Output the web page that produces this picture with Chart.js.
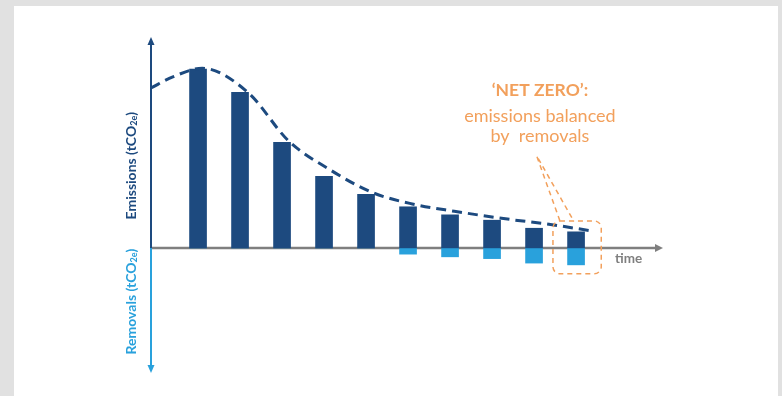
<!DOCTYPE html>
<html lang="en">
<head>
    <meta charset="UTF-8">
    <title>Net zero</title>
    <script src="https://cdn.jsdelivr.net/npm/chart.js"></script>
    <style>
        body { margin: 0; background: #e1e1e1; }
        canvas { display: block; }
    </style>
</head>
<body>
    <canvas id="netZero" width="782" height="396"></canvas>

    <script>
        // Periods (bar positions on the time axis)
        const periods = [1, 2, 3, 4, 5, 6, 7, 8, 9, 10];
        // Emissions above the axis, removals below (tCO2e, arbitrary units)
        const emissions = [100, 87, 59, 40, 30, 23, 18.5, 15.5, 11, 9];
        const removals = [0, 0, 0, 0, 0, -3.5, -5, -6, -8.5, -9.5];
        // Dashed trend curve
        const curveX = [-0.12, 0.4, 1.1, 2.2, 3.15, 4.15, 5.15, 6.1, 7.1, 8.5, 9.3, 10.38];
        const curveY = [89.5, 95.7, 100.5, 86.7, 60, 43.6, 31, 24.6, 20.5, 15.7, 13.4, 9.5];
        // Text
        const yLabelUp = ['Emissions (tCO', '2e', ')'];
        const yLabelDown = ['Removals (tCO', '2e', ')'];
        const xLabel = 'time';
        const noteLines = ['\u2018NET ZERO\u2019:', 'emissions balanced', 'by  removals'];

        const DARK = '#1d4a7f';
        const LIGHT = '#29a1dc';
        const ORANGE = '#f2a05c';
        const GREY = '#7f7f7f';

        function arrowHead(ctx, x, y, dir, len, half) {
            // dir: 'up', 'down', 'right'
            ctx.beginPath();
            if (dir === 'up') {
                ctx.moveTo(x, y); ctx.lineTo(x - half, y + len); ctx.lineTo(x + half, y + len);
            } else if (dir === 'down') {
                ctx.moveTo(x, y); ctx.lineTo(x - half, y - len); ctx.lineTo(x + half, y - len);
            } else {
                ctx.moveTo(x, y); ctx.lineTo(x - len, y - half); ctx.lineTo(x - len, y + half);
            }
            ctx.closePath();
            ctx.fill();
        }

        function rotatedLabel(ctx, x, yc, parts, color) {
            const big = 'bold 14px Lato';
            const small = 'bold 9px Lato';
            ctx.save();
            ctx.font = big;
            const w0 = ctx.measureText(parts[0]).width;
            const w2 = ctx.measureText(parts[2]).width;
            ctx.font = small;
            const w1 = ctx.measureText(parts[1]).width;
            const total = w0 + w1 + w2;
            ctx.translate(x, yc);
            ctx.rotate(-Math.PI / 2);
            ctx.fillStyle = color;
            ctx.textAlign = 'left';
            ctx.textBaseline = 'middle';
            let p = -total / 2;
            ctx.font = big;
            ctx.fillText(parts[0], p, 0);
            p += w0;
            ctx.font = small;
            ctx.fillText(parts[1], p, 3.5);
            p += w1;
            ctx.font = big;
            ctx.fillText(parts[2], p, 0);
            ctx.restore();
        }

        const decor = {
            id: 'decor',
            beforeDraw(chart) {
                const ctx = chart.ctx;
                ctx.save();
                ctx.fillStyle = '#e1e1e1';
                ctx.fillRect(0, 0, chart.width, chart.height);
                ctx.fillStyle = '#ffffff';
                ctx.fillRect(14, 6, 764, chart.height - 6);
                ctx.restore();
            },
            beforeDatasetsDraw(chart) {
                const ctx = chart.ctx;
                const a = chart.chartArea;
                const y0 = chart.scales.y.getPixelForValue(0);
                const x0 = a.left;
                ctx.save();
                // time axis
                ctx.strokeStyle = GREY;
                ctx.fillStyle = GREY;
                ctx.lineWidth = 2.5;
                ctx.beginPath();
                ctx.moveTo(x0, y0);
                ctx.lineTo(a.right - 6, y0);
                ctx.stroke();
                arrowHead(ctx, a.right, y0, 'right', 8, 4);
                // emissions axis
                ctx.strokeStyle = DARK;
                ctx.fillStyle = DARK;
                ctx.lineWidth = 2;
                ctx.beginPath();
                ctx.moveTo(x0, y0);
                ctx.lineTo(x0, a.top + 6);
                ctx.stroke();
                arrowHead(ctx, x0, a.top, 'up', 8, 3.5);
                // removals axis
                ctx.strokeStyle = LIGHT;
                ctx.fillStyle = LIGHT;
                ctx.beginPath();
                ctx.moveTo(x0, y0);
                ctx.lineTo(x0, a.bottom - 6);
                ctx.stroke();
                arrowHead(ctx, x0, a.bottom, 'down', 8, 3.5);
                ctx.restore();
            },
            afterDatasetsDraw(chart) {
                const ctx = chart.ctx;
                const xs = chart.scales.x, ys = chart.scales.y;
                const X = v => xs.getPixelForValue(v);
                const Y = v => ys.getPixelForValue(v);
                ctx.save();

                // axis titles
                rotatedLabel(ctx, X(-0.12) - 20, Y(46), yLabelUp, DARK);
                rotatedLabel(ctx, X(-0.12) - 20, Y(-30), yLabelDown, LIGHT);
                ctx.fillStyle = GREY;
                ctx.font = 'bold 13.5px Lato';
                ctx.textAlign = 'center';
                ctx.textBaseline = 'alphabetic';
                ctx.fillText(xLabel, X(11.25), Y(-8.6));

                // net zero note
                ctx.fillStyle = ORANGE;
                ctx.textAlign = 'center';
                ctx.font = 'bold 17.5px Lato';
                ctx.fillText(noteLines[0], X(9.14), Y(85));
                ctx.font = '18px Lato';
                ctx.fillText(noteLines[1], X(9.14), Y(70.5));
                ctx.fillText(noteLines[2], X(9.14), Y(59));

                // dashed pointer lines
                ctx.strokeStyle = ORANGE;
                ctx.lineWidth = 1.5;
                ctx.setLineDash([5, 4]);
                ctx.beginPath();
                ctx.moveTo(X(9.07), Y(51));
                ctx.lineTo(X(9.62), Y(14.8));
                ctx.moveTo(X(9.1), Y(50));
                ctx.lineTo(X(9.95), Y(14.8));
                ctx.stroke();

                // dashed box around last bar
                const bx = X(9.45), by = Y(15.1), bw = X(10.6) - bx, bh = Y(-14.5) - by;
                ctx.beginPath();
                ctx.roundRect(bx, by, bw, bh, 7);
                ctx.stroke();
                ctx.restore();
            }
        };

        new Chart(document.getElementById('netZero'), {
            type: 'bar',
            data: {
                datasets: [{
                    type: 'line',
                    data: curveX.map((x, i) => ({ x: x, y: curveY[i] })),
                    borderColor: DARK,
                    borderWidth: 3,
                    borderDash: [10, 6],
                    pointRadius: 0,
                    cubicInterpolationMode: 'monotone',
                    order: 0
                }, {
                    data: periods.map((p, i) => ({ x: p, y: emissions[i] })),
                    backgroundColor: DARK,
                    barThickness: 17,
                    grouped: false,
                    order: 1
                }, {
                    data: periods.map((p, i) => ({ x: p, y: removals[i] })),
                    backgroundColor: LIGHT,
                    barThickness: 17,
                    grouped: false,
                    order: 1
                }]
            },
            options: {
                responsive: false,
                animation: false,
                layout: { padding: { left: 151, right: 119, top: 37, bottom: 23 } },
                plugins: { legend: { display: false }, tooltip: { enabled: false } },
                scales: {
                    x: { type: 'linear', min: -0.12, max: 12.07, offset: false, display: false },
                    y: { min: -70, max: 118, display: false }
                }
            },
            plugins: [decor]
        });
    </script>
</body>
</html>
